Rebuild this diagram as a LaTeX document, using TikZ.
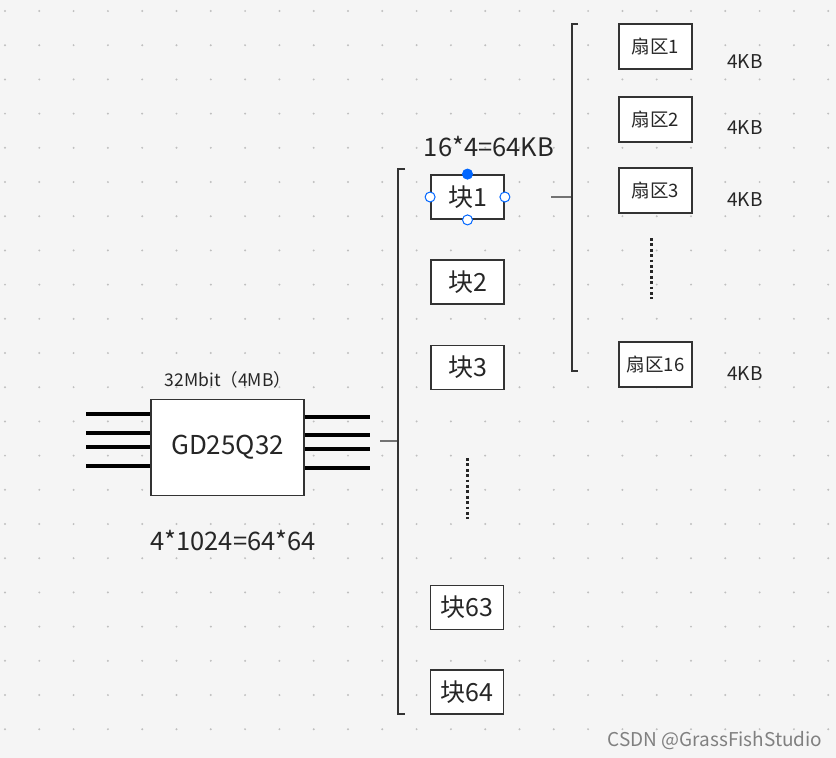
\documentclass[tikz,border=0pt]{standalone}
\usepackage{fontspec}
\setmainfont{Noto Sans CJK SC}
\begin{document}
\begin{tikzpicture}[x=1pt,y=-1pt,
  box/.style={draw=black!80,line width=1.8pt,fill=white,inner sep=0pt},
  blk/.style={box,minimum width=73pt,minimum height=44pt,font=\fontsize{25}{27}\selectfont,text=black!85},
  sec/.style={box,minimum width=73pt,minimum height=45pt,font=\fontsize{18.5}{20}\selectfont,text=black!85},
  kb/.style={font=\fontsize{19}{21}\selectfont,text=black!85},
  pin/.style={line width=3.8pt,black},
  brk/.style={draw=black!80,line width=1.3pt},
  conn/.style={draw=black!55,line width=1.3pt},
  vdots/.style={draw=black!85,line width=3pt,dash pattern=on 2.8pt off 2.6pt},
  handle/.style={circle,draw=blue!60!cyan,line width=1pt,fill=white,minimum size=10pt,inner sep=0pt}]
\fill[gray!8] (0,0) rectangle (836,758);
\useasboundingbox (0,0) rectangle (836,758);
\foreach \i in {0,...,24}{\foreach \j in {0,...,21}{
  \fill[black!25] (5+34.3*\i,11+34.2*\j) circle (1.1pt);}}
% chip
\node[box,minimum width=153pt,minimum height=96pt,font=\fontsize{26}{28}\selectfont,text=black!85] (chip) at (227.5,447.5) {GD25Q32};
\foreach \y in {414,433,447,466}{\draw[pin] (86,\y) -- (chip.west |- 0,\y);}
\foreach \y in {417,435,449,468}{\draw[pin] (chip.east |- 0,\y) -- (370,\y);}
\node[font=\fontsize{17.5}{19}\selectfont,text=black!85] (cap) at (228,380) {32Mbit（4MB）};
\node[font=\fontsize{25.5}{27}\selectfont,text=black!85] (eq) at (233,541) {4*1024=64*64};
% block bracket
\coordinate (c0) at (380,441);
\coordinate (bA) at (398,441);
\draw[conn] (c0) -- (bA);
\draw[brk] (405,169) -- (398,169) -- (398,714) -- (405,714);
\node[blk] (b1) at (467.5,197) {块1};
\node[blk] (b2) at (467.5,282) {块2};
\node[blk] (b3) at (467.5,367.5) {块3};
\node[blk] (b63) at (467,607.5) {块63};
\node[blk] (b64) at (467,692) {块64};
\draw[vdots] (467,458) -- (467,519);
\node[font=\fontsize{25.5}{27}\selectfont,text=black!85] (t16) at (489,147) {16*4=64KB};
% selection handles
\node[handle,fill=blue!60!cyan] (h1) at (b1.north) {};
\node[handle] (h2) at (b1.west) {};
\node[handle] (h3) at (b1.east) {};
\node[handle] (h4) at (b1.south) {};
% sector bracket
\coordinate (s0) at (551,197);
\coordinate (sA) at (572,197);
\draw[conn] (s0) -- (sA);
\draw[brk] (578,24) -- (572,24) -- (572,371) -- (578,371);
\node[sec] (s1) at (655.5,46.5) {扇区1};
\node[sec] (s2) at (655.5,119.5) {扇区2};
\node[sec] (s3) at (655.5,190.5) {扇区3};
\node[sec] (s16) at (655.5,364.5) {扇区16};
\draw[vdots] (651,238) -- (651,299);
\node[kb] (k1) at (745,62) {4KB};
\node[kb] (k2) at (745,128) {4KB};
\node[kb] (k3) at (745,200) {4KB};
\node[kb] (k16) at (745,374) {4KB};
\node[font=\fontsize{19}{21}\selectfont,text=black!50] (wm) at (715,741) {CSDN @GrassFishStudio};
\end{tikzpicture}
\end{document}
